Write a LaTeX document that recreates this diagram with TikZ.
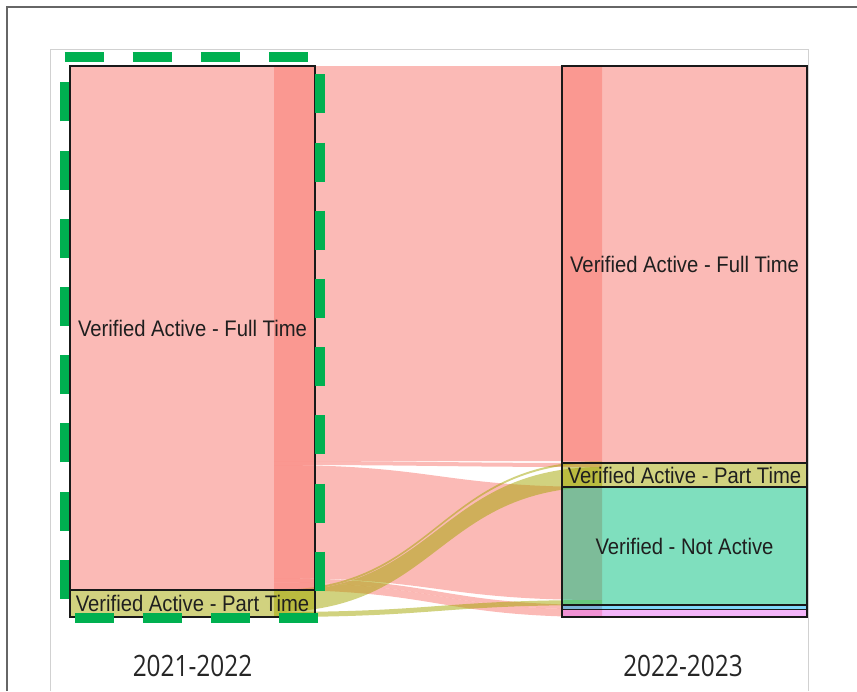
\documentclass[tikz,border=0pt]{standalone}
\usepackage{fontspec}
\newfontfamily\lblfont{Liberation Sans}[FakeStretch=0.9]
\newfontfamily\yrfont{Open Sans}[FakeStretch=0.83]

\definecolor{fulltime}{HTML}{F8766D}
\definecolor{parttime}{HTML}{A3A500}
\definecolor{notactive}{HTML}{00BF7D}
\definecolor{cyanlvl}{HTML}{00B0F6}
\definecolor{pinklvl}{HTML}{E76BF3}
\definecolor{hilite}{HTML}{00B050}

% ribbon between the two year columns: colour, left top/bottom, right top/bottom
\newcommand\flow[5]{%
  \fill[#1, fill opacity=0.5] (274,#2) .. controls (438,#2) and (438,#4) .. (602,#4)
    -- (602,#5) .. controls (438,#5) and (438,#3) .. (274,#3) -- cycle;}

\tikzset{
  stratum/.style={rectangle, draw=black!90, line width=1.2pt, fill opacity=0.5,
    text opacity=1, inner sep=0pt, outer sep=0pt, minimum width=245pt},
  lbl/.style={font=\lblfont\fontsize{22.5}{26}\selectfont, text=black!88,
    text height=16pt, text depth=0pt},
  year/.style={font=\yrfont\fontsize{29.4}{32}\selectfont, text=black!85, inner sep=0pt},
  dashbox/.style={draw=hilite, line width=9.5pt, dash pattern=on 39pt off 29.2pt}
}

\begin{document}
\begin{tikzpicture}[x=1pt, y=-1pt]
  \useasboundingbox (0,0) rectangle (857,691);

  \draw[black!60, line width=1.5pt] (7,691) -- (7,7) -- (857,7);
  \draw[black!18, line width=1pt] (50,691) -- (50,49) -- (808,49) -- (808,691);

  \flow{fulltime}{66}{461}{66}{461}
  \flow{fulltime}{461}{465}{463}{467}
  \flow{fulltime}{465}{578}{487}{600}
  \flow{fulltime}{578}{582.5}{605}{609.5}
  \flow{fulltime}{582.5}{590}{609.5}{617}
  \flow{parttime}{590}{592}{461}{463}
  \flow{parttime}{592}{612}{467}{487}
  \flow{parttime}{612}{617}{600}{605}

  \node[stratum, lbl, fill=fulltime, minimum height=524pt] (ft21) at (192.5,328) {Verified Active - Full Time};
  \node[stratum, lbl, fill=parttime, minimum height=27pt] (pt21) at (192.5,603.5) {Verified Active - Part Time};

  \node[stratum, lbl, fill=fulltime, minimum height=397pt] (ft22) at (684.5,264.5) {Verified Active - Full Time};
  \node[stratum, lbl, fill=parttime, minimum height=24pt] (pt22) at (684.5,475) {Verified Active - Part Time};
  \node[stratum, lbl, fill=notactive, minimum height=118pt] (na22) at (684.5,546) {Verified - Not Active};
  \node[stratum, fill=cyanlvl, minimum height=4.5pt] (cy22) at (684.5,607.25) {};
  \node[stratum, fill=pinklvl, minimum height=7.5pt] (pk22) at (684.5,613.25) {};

  \draw[dashbox] (64.5,57) -- (320,57) -- (320,618) -- (64.5,618) -- cycle;

  \node[year] (y21) at (192.5,665.5) {2021-2022};
  \node[year] (y22) at (683,665.5) {2022-2023};
\end{tikzpicture}
\end{document}
